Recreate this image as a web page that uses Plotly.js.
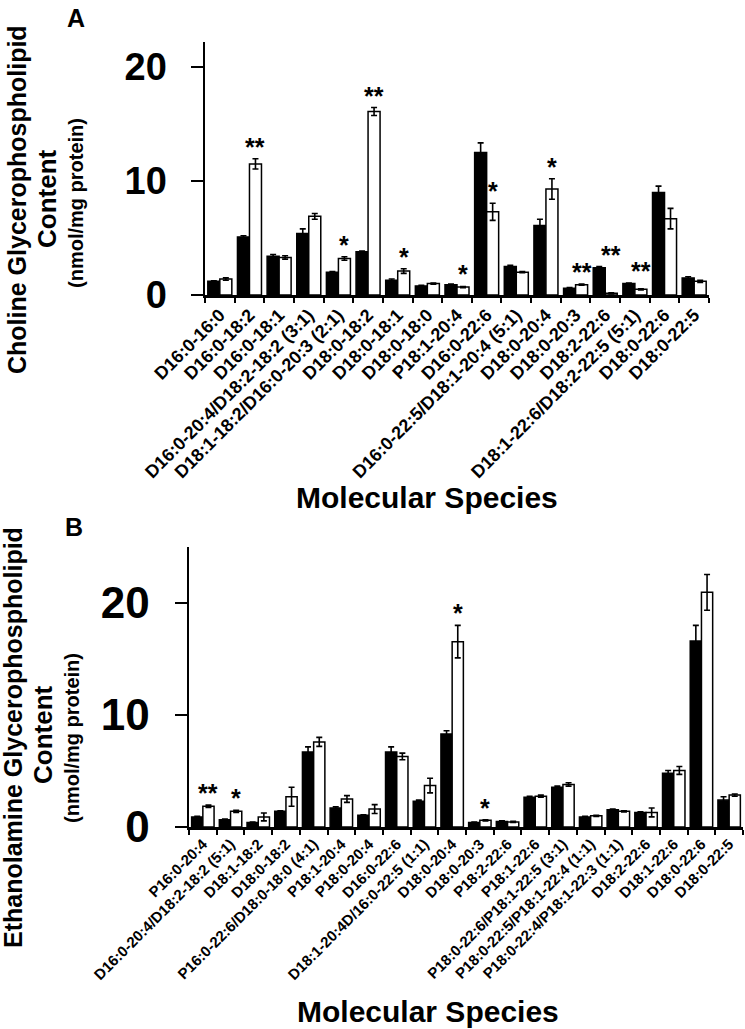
<!DOCTYPE html>
<html>
<head>
<meta charset="utf-8">
<script src="https://cdn.plot.ly/plotly-3.0.1.min.js"></script>
<style>html,body{margin:0;padding:0;background:#fff;}#chart{width:745px;height:1029px;}</style>
</head>
<body>
<div id="chart"></div>
<script>
// Panel A: Choline glycerophospholipids
const categoriesA = ['D16:0-16:0','D16:0-18:2','D16:0-18:1','D16:0-20:4/D18:2-18:2 (3:1)','D18:1-18:2/D16:0-20:3 (2:1)','D18:0-18:2','D18:0-18:1','D18:0-18:0','P18:1-20:4','D16:0-22:6','D16:0-22:5/D18:1-20:4 (5:1)','D18:0-20:4','D18:0-20:3','D18:2-22:6','D18:1-22:6/D18:2-22:5 (5:1)','D18:0-22:6','D18:0-22:5'];
const blackA    = [1.2, 5.1, 3.4, 5.4, 2.0, 3.8, 1.3, 0.8, 0.9, 12.5, 2.5, 6.1, 0.6, 2.4, 1.0, 9.0, 1.5];
const blackErrA = [0.05,0.1, 0.15,0.4, 0.05,0.05,0.1, 0.05,0.05,0.85, 0.1, 0.55,0.05,0.1, 0.05,0.55,0.1];
const whiteA    = [1.4, 11.5,3.3, 6.9, 3.2, 16.1,2.1, 1.0, 0.7, 7.3, 2.0, 9.3, 0.9, 0.15,0.5, 6.7, 1.2];
const whiteErrA = [0.1, 0.45,0.15,0.25,0.15,0.35,0.2, 0.05,0.05,0.75, 0.05,0.9, 0.05,0.05,0.05,0.9, 0.1];
const sigA      = ['', '**','', '', '*', '**','*', '', '*', '*', '', '*', '**','**','**','', ''];

// Panel B: Ethanolamine glycerophospholipids
const categoriesB = ['P16:0-20:4','D16:0-20:4/D18:2-18:2 (5:1)','D18:1-18:2','D18:0-18:2','P16:0-22:6/D18:0-18:0 (4:1)','P18:1-20:4','P18:0-20:4','D16:0-22:6','D18:1-20:4D/16:0-22:5 (1:1)','D18:0-20:4','D18:0-20:3','P18:2-22:6','P18:1-22:6','P18:0-22:6/P18:1-22:5 (3:1)','P18:0-22:5/P18:1-22:4 (1:1)','P18:0-22:4/P18:1-22:3 (1:1)','D18:2-22:6','D18:1-22:6','D18:0-22:6','D18:0-22:5'];
const blackB    = [0.9, 0.65,0.4, 1.4, 6.7, 1.7, 1.05,6.7, 2.3, 8.3, 0.4, 0.5, 2.65,3.55,0.9, 1.55,1.3, 4.8, 16.6,2.4];
const blackErrB = [0.05,0.05,0.05,0.05,0.45,0.1, 0.05,0.45,0.1, 0.3, 0.05,0.05,0.1, 0.1, 0.05,0.05,0.05,0.25,1.4, 0.3];
const whiteB    = [1.85,1.4, 0.9, 2.7, 7.6, 2.5, 1.6, 6.3, 3.7, 16.55,0.6,0.45,2.75,3.8, 1.0, 1.4, 1.3, 5.05,20.95,2.85];
const whiteErrB = [0.1, 0.1, 0.35,0.85,0.4, 0.3, 0.4, 0.3, 0.65,1.45, 0.05,0.05,0.1, 0.15,0.05,0.05,0.4, 0.35,1.6, 0.1];
const sigB      = ['**','*','', '', '', '', '', '', '', '*', '*', '', '', '', '', '', '', '', '', ''];

const FONT = "'Liberation Sans', Arial, Helvetica, sans-serif";
const W = 745, H = 1029;

function barTrace(cats, vals, errs, filled, xa, ya) {
  return {
    type: 'bar', x: cats, y: vals, xaxis: xa, yaxis: ya,
    marker: {color: filled ? '#000000' : '#ffffff', line: {color: '#000000', width: 1.5}},
    error_y: {type: 'data', array: errs, visible: true, color: '#000000', thickness: 1.6, width: 3},
    showlegend: false, hoverinfo: 'skip'
  };
}

const data = [
  barTrace(categoriesA, blackA, blackErrA, true, 'x', 'y'),
  barTrace(categoriesA, whiteA, whiteErrA, false, 'x', 'y'),
  barTrace(categoriesB, blackB, blackErrB, true, 'x2', 'y2'),
  barTrace(categoriesB, whiteB, whiteErrB, false, 'x2', 'y2')
];

const annotations = [];
function addStars(cats, sig, bv, be, wv, we, xref, yref, shift) {
  sig.forEach((s, i) => {
    if (!s) return;
    let base = wv[i] + we[i];
    if (s.length > 1) base = Math.max(base, bv[i] + be[i]);
    annotations.push({x: cats[i], y: base, xref: xref, yref: yref, text: s, showarrow: false,
      xanchor: 'center', yanchor: 'bottom', xshift: shift, yshift: -4,
      font: {family: FONT, size: 25, color: '#000', weight: 'bold'}});
  });
}
addStars(categoriesA, sigA, blackA, blackErrA, whiteA, whiteErrA, 'x', 'y', 6);
addStars(categoriesB, sigB, blackB, blackErrB, whiteB, whiteErrB, 'x2', 'y2', 5.5);

function paperText(text, px, py, size, angle) {
  annotations.push({text: text, xref: 'paper', yref: 'paper', x: px / W, y: 1 - py / H,
    xanchor: 'center', yanchor: 'middle', showarrow: false, textangle: angle || 0,
    font: {family: FONT, size: size, color: '#000', weight: 'bold'}});
}
paperText('A', 76, 18, 25);
paperText('B', 74, 527, 25);
paperText('Choline Glycerophospholipid', 17, 200, 25, -90);
paperText('Content', 47, 199, 26, -90);
paperText('(nmol/mg protein)', 76, 203, 20, -90);
paperText('Ethanolamine Glycerophospholipid', 13, 738, 25, -90);
paperText('Content', 43, 735, 26, -90);
paperText('(nmol/mg protein)', 72, 738, 20, -90);
paperText('Molecular Species', 427, 497, 30);
paperText('Molecular Species', 428, 1011, 30);

function xAxis(domain, anchor, size) {
  return {domain: domain, anchor: anchor, type: 'category', tickson: 'boundaries',
    ticks: 'outside', ticklen: 5, tickwidth: 2, tickcolor: '#000',
    showline: true, linewidth: 2.5, linecolor: '#000', showgrid: false, zeroline: false,
    tickangle: -45, tickfont: {family: FONT, size: size, color: '#000', weight: 'bold'}, automargin: false};
}
function yAxis(domain, anchor, range, size, standoff) {
  return {domain: domain, anchor: anchor, range: range, tickvals: [0, 10, 20],
    ticks: 'outside', ticklen: 12, tickwidth: 2, tickcolor: '#000',
    showline: true, linewidth: 2.5, linecolor: '#000', showgrid: false, zeroline: false,
    ticklabelstandoff: standoff,
    tickfont: {family: FONT, size: size, color: '#000', weight: 'bold'}, automargin: false};
}

const layout = {
  width: W, height: H, margin: {l: 0, r: 0, t: 0, b: 0},
  paper_bgcolor: '#fff', plot_bgcolor: '#fff',
  barmode: 'group', bargap: 0.19, bargroupgap: 0,
  showlegend: false,
  xaxis: xAxis([205 / W, 709 / W], 'y', 18),
  yaxis: yAxis([1 - 295 / H, 1 - 42 / H], 'x', [0, 22.2], 38, 16),
  xaxis2: xAxis([189 / W, 743 / W], 'y2', 15),
  yaxis2: yAxis([1 - 827 / H, 1 - 547 / H], 'x2', [0, 25], 44, 16),
  annotations: annotations
};

Plotly.newPlot('chart', data, layout, {staticPlot: true, displayModeBar: false});
</script>
</body>
</html>
